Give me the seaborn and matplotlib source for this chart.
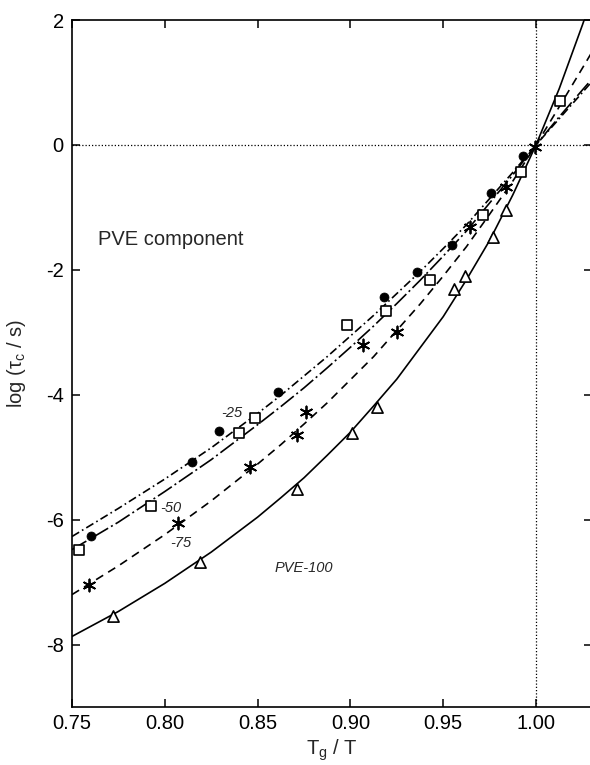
import matplotlib
matplotlib.use("Agg")
import matplotlib.pyplot as plt
import seaborn as sns

# ---- fitted curves ----
curve_x = [0.75, 0.775, 0.80, 0.825, 0.85, 0.8625, 0.875, 0.8875, 0.90, 0.9125, 0.925, 0.9375,
           0.95, 0.9625, 0.975, 0.9875, 1.0, 1.0125, 1.025, 1.03]
fit_25 = [-6.27, -5.82, -5.35, -4.85, -4.30, -4.01, -3.70, -3.39, -3.06, -2.73, -2.38, -2.03,
          -1.66, -1.28, -0.86, -0.44, 0.0, 0.42, 0.84, 1.01]
fit_50 = [-6.48, -6.04, -5.55, -5.04, -4.48, -4.19, -3.89, -3.57, -3.24, -2.90, -2.54, -2.17,
          -1.78, -1.38, -0.93, -0.48, 0.0, 0.45, 0.88, 1.05]
fit_75 = [-7.20, -6.74, -6.24, -5.70, -5.11, -4.80, -4.47, -4.13, -3.76, -3.39, -2.97, -2.55,
          -2.10, -1.63, -1.11, -0.58, 0.0, 0.61, 1.23, 1.48]
fit_100 = [-7.87, -7.47, -7.02, -6.52, -5.96, -5.65, -5.33, -4.97, -4.60, -4.18, -3.75, -3.25,
           -2.75, -2.16, -1.53, -0.80, 0.0, 0.90, 1.92, 2.35]

# ---- measured points ----
pts25_x = [0.760, 0.8145, 0.829, 0.861, 0.918, 0.936, 0.955, 0.976, 0.993]
pts25_y = [-6.27, -5.08, -4.58, -3.96, -2.44, -2.03, -1.61, -0.77, -0.17]
pts50_x = [0.754, 0.7925, 0.840, 0.8486, 0.898, 0.919, 0.943, 0.9716, 0.9917, 1.0129]
pts50_y = [-6.48, -5.78, -4.61, -4.38, -2.88, -2.66, -2.17, -1.12, -0.44, 0.71]
pts75_x = [0.759, 0.807, 0.846, 0.871, 0.876, 0.907, 0.925, 0.9645, 0.984, 0.9995]
pts75_y = [-7.05, -6.06, -5.16, -4.64, -4.28, -3.20, -2.99, -1.31, -0.68, -0.03]
pts100_x = [0.772, 0.819, 0.871, 0.901, 0.9145, 0.956, 0.962, 0.977, 0.984]
pts100_y = [-7.55, -6.68, -5.51, -4.61, -4.20, -2.30, -2.10, -1.48, -1.04]

x_ticks = [0.75, 0.80, 0.85, 0.90, 0.95, 1.00]
x_ticklabels = ["0.75", "0.80", "0.85", "0.90", "0.95", "1.00"]
y_ticks = [-8, -6, -4, -2, 0, 2]
y_ticklabels = ["-8", "-6", "-4", "-2", "0", "2"]

sns.set_theme(style="ticks")
plt.rcParams["font.family"] = ["Liberation Sans", "DejaVu Sans"]
plt.rcParams["mathtext.default"] = "regular"
plt.rcParams["axes.unicode_minus"] = False

fig = plt.figure(figsize=(5.9, 7.65), dpi=100)
ax = fig.add_axes([72 / 590, 58 / 765, 519.7 / 590, 687 / 765])

ax.axhline(0, color="black", lw=0.9, ls=(0, (1, 1.6)), zorder=1)
ax.axvline(1.0, color="black", lw=0.9, ls=(0, (1, 1.6)), zorder=1)

lw = 1.2
sns.lineplot(x=curve_x, y=fit_25, ax=ax, color="black", lw=lw, ls=(0, (5, 2, 1, 2)), zorder=2)
sns.lineplot(x=curve_x, y=fit_50, ax=ax, color="black", lw=lw, ls=(0, (10, 2, 1.2, 2)), zorder=2)
sns.lineplot(x=curve_x, y=fit_75, ax=ax, color="black", lw=lw, ls=(0, (5, 3.5)), zorder=2)
sns.lineplot(x=curve_x, y=fit_100, ax=ax, color="black", lw=lw, ls="-", zorder=2)

sns.scatterplot(x=pts25_x, y=pts25_y, ax=ax, marker="o", color="black", edgecolor="black", s=42, zorder=3)
sns.scatterplot(x=pts50_x, y=pts50_y, ax=ax, marker="s", color="white", edgecolor="black",
                linewidth=1.2, s=50, zorder=3)
sns.scatterplot(x=pts75_x, y=pts75_y, ax=ax, marker=(6, 2, 0), color="black", linewidth=1.3, s=75, zorder=3)
sns.scatterplot(x=pts100_x, y=pts100_y, ax=ax, marker="^", color="white", edgecolor="black",
                linewidth=1.2, s=65, zorder=3)

ax.text(0.836, -4.30, "-25", fontsize=10.5, style="italic", ha="center", va="center")
ax.text(0.7975, -5.81, "-50", fontsize=10.5, style="italic", ha="left", va="center")
ax.text(0.8087, -6.38, "-75", fontsize=10.5, style="italic", ha="center", va="center")
ax.text(0.875, -6.77, "PVE-100", fontsize=10.5, style="italic", ha="center", va="center")
ax.text(0.764, -1.52, "PVE component", fontsize=14.5, ha="left", va="center")

ax.set_xlim(0.75, 1.03)
ax.set_ylim(-9, 2)
ax.set_xticks(x_ticks)
ax.set_xticklabels(x_ticklabels)
ax.set_yticks(y_ticks)
ax.set_yticklabels(y_ticklabels)
ax.tick_params(direction="in", top=True, right=True, length=6, width=1.1, labelsize=14.5, colors="black")
ax.tick_params(axis="x", pad=5)
ax.tick_params(axis="y", pad=6)
for sp in ax.spines.values():
    sp.set_linewidth(1.2)
    sp.set_color("black")

ax.set_xlabel("T$_g$ / T", fontsize=14.5)
ax.set_ylabel("log (τ$_c$ / s)", fontsize=14.5)
ax.xaxis.set_label_coords(0.5, -0.045)
ax.yaxis.set_label_coords(-0.085, 0.5)

fig.savefig("out.png", dpi=100, facecolor="white")
